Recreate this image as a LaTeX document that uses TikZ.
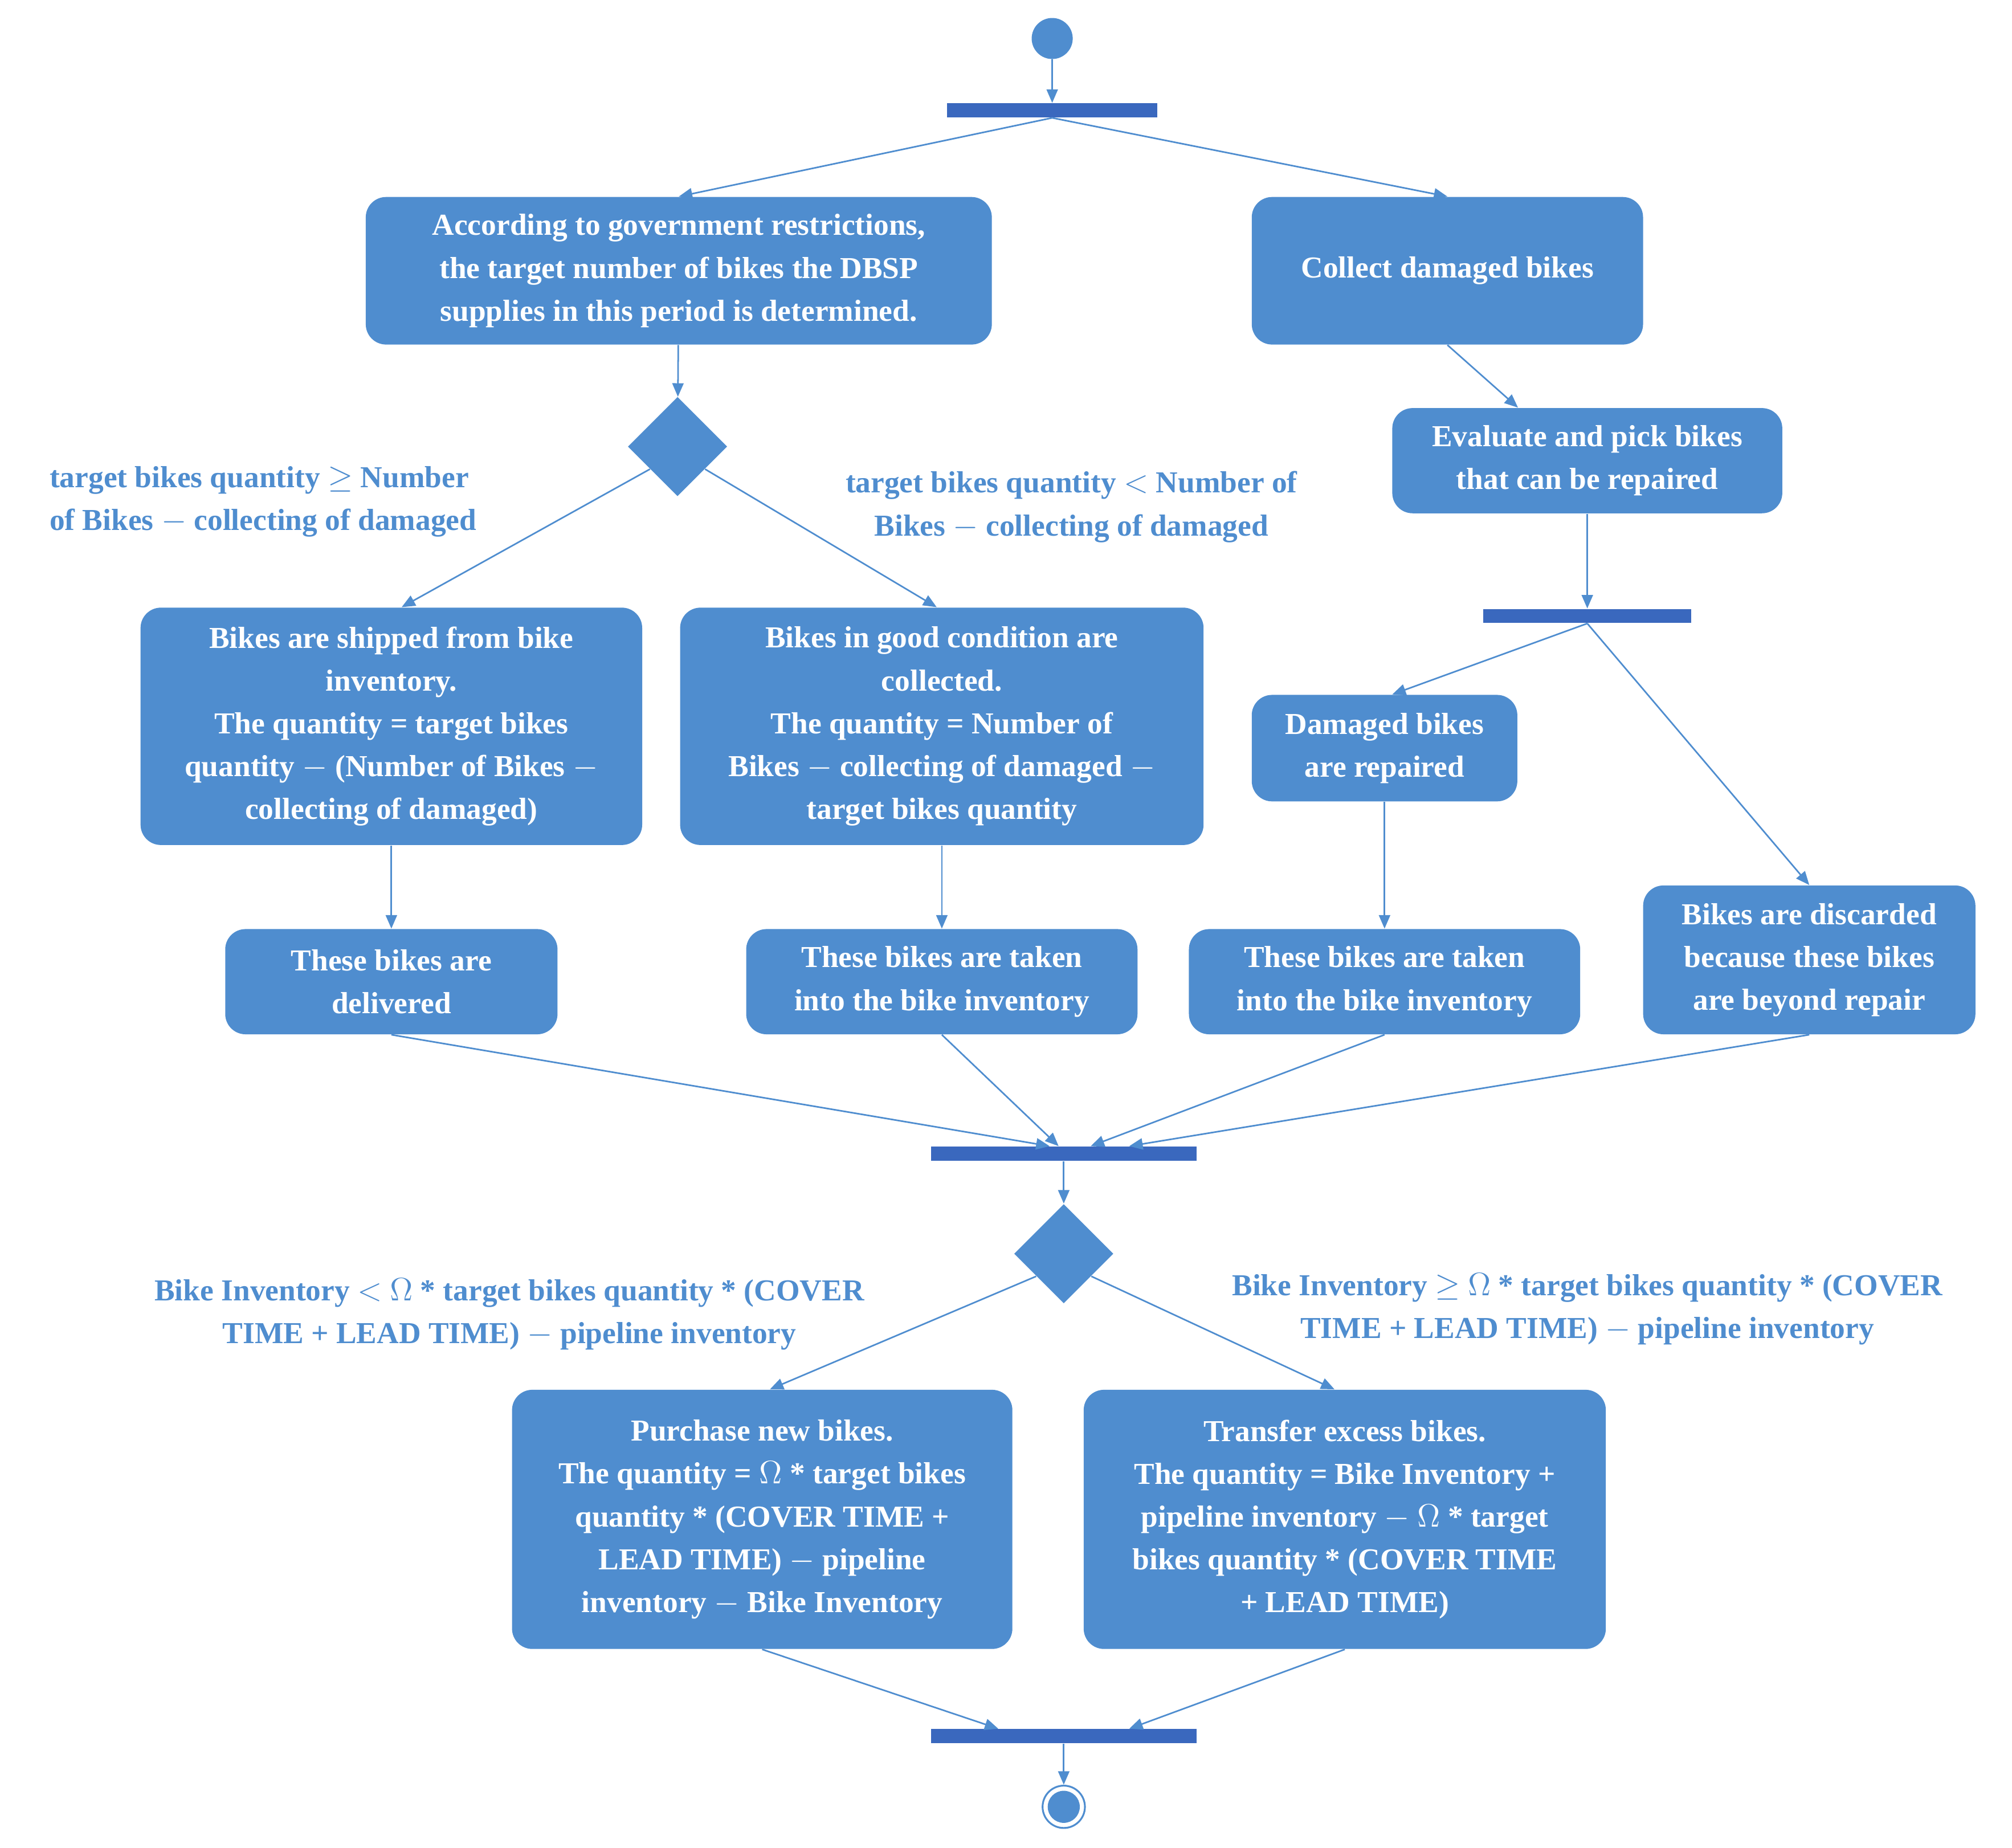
\documentclass[tikz,border=0pt]{standalone}
\usepackage{fontspec}
\setmainfont{Liberation Serif}
\usetikzlibrary{arrows.meta,shapes.geometric,calc}
\definecolor{actblue}{RGB}{79,141,207}
\definecolor{barblue}{RGB}{58,104,190}

\tikzset{
  act/.style={rectangle, rounded corners=9pt, fill=actblue, text=white, align=center,
    font=\fontsize{13.5}{19}\selectfont\bfseries, inner sep=2pt},
  bar/.style={rectangle, fill=barblue, minimum height=0.22cm, inner sep=0pt},
  choice/.style={diamond, fill=actblue, minimum width=1.55cm, minimum height=1.55cm, inner sep=0pt},
  guard/.style={text=actblue, font=\fontsize{13.5}{19}\selectfont\bfseries},
  flow/.style={draw=actblue, line width=0.7pt, -{Triangle[width=5pt,length=6pt]}}
}

\begin{document}
\begin{tikzpicture}[x=0.02cm, y=-0.02cm]
    \useasboundingbox (0,0) rectangle (1568,1440);
    % start and forks
    \node[circle, fill=actblue, minimum size=0.64cm, inner sep=0pt] (start) at (820,30) {};
    \node[bar, minimum width=3.28cm] (fork1) at (820,86) {};
    \node[act, minimum width=9.76cm, minimum height=2.3cm] (target) at (529,211)
        {According to government restrictions,\\the target number of bikes the DBSP\\supplies in this period is determined.};
    \node[act, minimum width=6.1cm, minimum height=2.3cm] (collect) at (1128,211) {Collect damaged bikes};
    \node[choice] (check1) at (528,348) {};
    \node[act, minimum width=6.08cm, minimum height=1.64cm] (evaluate) at (1237,359)
        {Evaluate and pick bikes\\that can be repaired};
    \node[bar, minimum width=3.24cm] (fork2) at (1237,480) {};

    % guards
    \node[guard, align=left] (geq1) at (205,391) {target bikes quantity $\geq$ Number\\of Bikes $-$ collecting of damaged};
    \node[guard, align=center] (lt1) at (835,395) {target bikes quantity $<$ Number of\\Bikes $-$ collecting of damaged};

    % middle row
    \node[act, minimum width=7.82cm, minimum height=3.7cm] (shipped) at (305,566)
        {Bikes are shipped from bike\\inventory.\\The quantity = target bikes\\quantity $-$ (Number of Bikes $-$\\collecting of damaged)};
    \node[act, minimum width=8.16cm, minimum height=3.7cm] (good) at (734,566)
        {Bikes in good condition are\\collected.\\The quantity = Number of\\Bikes $-$ collecting of damaged $-$\\target bikes quantity};
    \node[act, minimum width=4.14cm, minimum height=1.66cm] (repaired) at (1079,583)
        {Damaged bikes\\are repaired};
    \node[act, minimum width=5.18cm, minimum height=1.64cm] (delivered) at (305,765)
        {These bikes are\\delivered};
    \node[act, minimum width=6.1cm, minimum height=1.64cm] (taken1) at (734,765)
        {These bikes are taken\\into the bike inventory};
    \node[act, minimum width=6.1cm, minimum height=1.64cm] (taken2) at (1079,765)
        {These bikes are taken\\into the bike inventory};
    \node[act, minimum width=5.18cm, minimum height=2.32cm] (discarded) at (1410,748)
        {Bikes are discarded\\because these bikes\\are beyond repair};

    % join and second decision
    \node[bar, minimum width=4.14cm] (join1) at (829,899) {};
    \node[choice] (check2) at (829,977) {};
    \node[guard, align=center] (lt2) at (397,1024)
        {Bike Inventory $<$ $\Omega$ * target bikes quantity * (COVER\\TIME + LEAD TIME) $-$ pipeline inventory};
    \node[guard, align=center] (geq2) at (1237,1020)
        {Bike Inventory $\geq$ $\Omega$ * target bikes quantity * (COVER\\TIME + LEAD TIME) $-$ pipeline inventory};
    \node[act, minimum width=7.8cm, minimum height=4.04cm] (purchase) at (594,1184)
        {Purchase new bikes.\\The quantity = $\Omega$ * target bikes\\quantity * (COVER TIME +\\LEAD TIME) $-$ pipeline\\inventory $-$ Bike Inventory};
    \node[act, minimum width=8.14cm, minimum height=4.04cm] (transfer) at (1048,1184)
        {Transfer excess bikes.\\The quantity = Bike Inventory +\\pipeline inventory $-$ $\Omega$ * target\\bikes quantity * (COVER TIME\\+ LEAD TIME)};
    \node[bar, minimum width=4.14cm] (join2) at (829,1353) {};
    \node[circle, draw=actblue, line width=0.8pt, minimum size=0.66cm, inner sep=0pt] (stop) at (829,1408) {};
    \node[circle, fill=actblue, minimum size=0.5cm, inner sep=0pt] (stopdot) at (stop) {};

    % flows
    \draw[flow] (start) -- (fork1);
    \draw[flow] (fork1.south) -- (target.north);
    \draw[flow] (fork1.south) -- (collect.north);
    \draw[flow] (target) -- (check1);
    \draw[flow] ($(check1.south)!0.55!(check1.west)$) -- ($(shipped.north)+(8,0)$);
    \draw[flow] ($(check1.south)!0.55!(check1.east)$) -- ($(good.north)-(4,0)$);
    \draw[flow] (collect.south) -- ($(evaluate.north)-(54,0)$);
    \draw[flow] (evaluate) -- (fork2);
    \draw[flow] (fork2.south) -- ($(repaired.north)+(6,0)$);
    \draw[flow] (fork2.south) -- (discarded.north);
    \draw[flow] (shipped) -- (delivered);
    \draw[flow] (good) -- (taken1);
    \draw[flow] (repaired) -- (taken2);
    \draw[flow] (delivered.south) -- ($(join1.north)-(11,0)$);
    \draw[flow] (taken1.south) -- ($(join1.north)-(4,0)$);
    \draw[flow] (taken2.south) -- ($(join1.north)+(21,0)$);
    \draw[flow] (discarded.south) -- ($(join1.north)+(51,0)$);
    \draw[flow] (join1) -- (check2);
    \draw[flow] ($(check2.south)!0.55!(check2.west)$) -- ($(purchase.north)+(6,0)$);
    \draw[flow] ($(check2.south)!0.55!(check2.east)$) -- ($(transfer.north)-(8,0)$);
    \draw[flow] (purchase.south) -- ($(join2.north)-(51,0)$);
    \draw[flow] (transfer.south) -- ($(join2.north)+(51,0)$);
    \draw[flow] (join2) -- (stop);
\end{tikzpicture}
\end{document}
